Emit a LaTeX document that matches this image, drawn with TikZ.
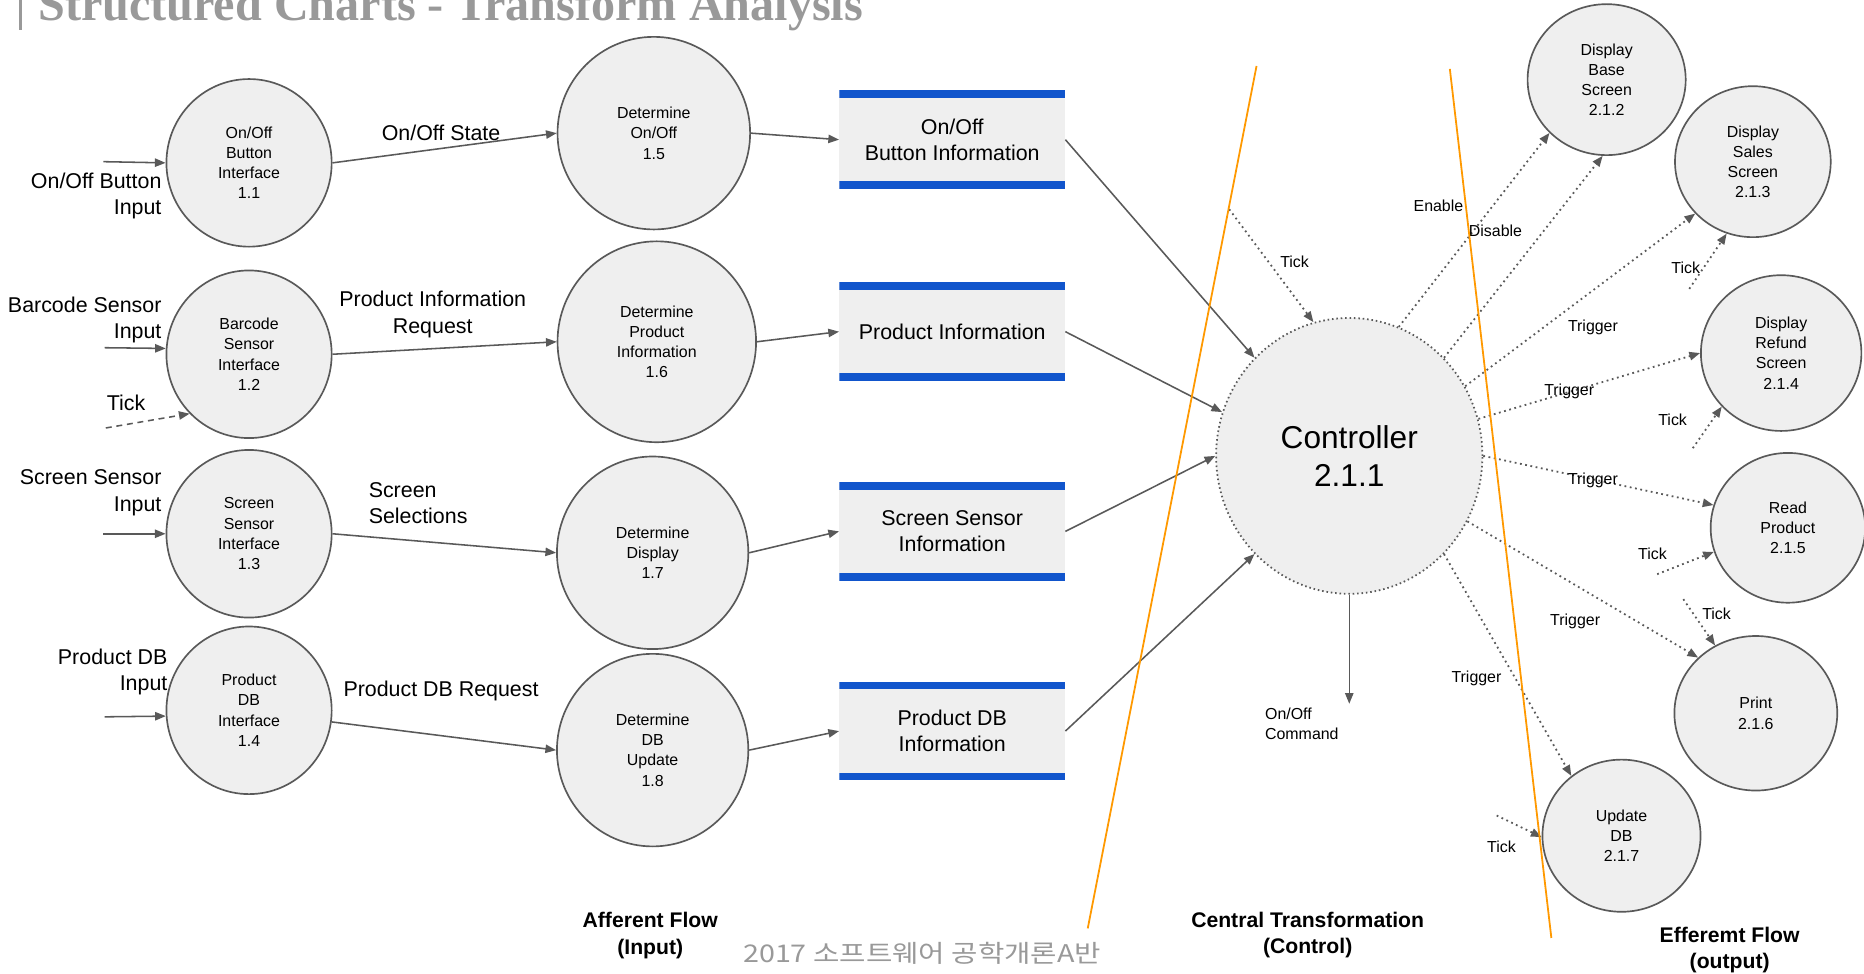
\documentclass[tikz,border=0pt]{standalone}
\usepackage{fontspec}
\setmainfont{Liberation Sans}
\newfontfamily\titlefont{Liberation Serif}
\newfontfamily\cjk{Noto Sans CJK KR}
\usetikzlibrary{arrows.meta,shapes.geometric}
\definecolor{lineg}{HTML}{595959}
\definecolor{fillg}{HTML}{EFEFEF}
\definecolor{storeblue}{HTML}{1155CC}
\definecolor{orangeln}{HTML}{FF9900}
\definecolor{titleg}{HTML}{999999}
\begin{document}
\begin{tikzpicture}[x=1pt,y=-1pt,
  proc/.style={ellipse, draw=lineg, line width=1.4pt, fill=fillg, inner sep=0pt, align=center,
    font=\fontsize{13.4}{17}\selectfont},
  ctrlnode/.style={ellipse, draw=lineg, line width=1.5pt, dash pattern=on 1.3pt off 2.4pt, fill=fillg,
    inner sep=0pt, align=center, minimum width=224pt, minimum height=232pt, font=\fontsize{26.6}{32}\selectfont},
  store/.style={rectangle, fill=fillg, minimum width=190pt, minimum height=83pt, inner sep=0pt, align=center,
    font=\fontsize{18}{22}\selectfont,
    path picture={\fill[storeblue] (path picture bounding box.north west) rectangle ([yshift=-6.5pt]path picture bounding box.north east);
                  \fill[storeblue] (path picture bounding box.south west) rectangle ([yshift=6.5pt]path picture bounding box.south east);}},
  lab/.style={inner sep=0pt, align=center, font=\fontsize{18}{22}\selectfont},
  small/.style={inner sep=0pt, align=center, font=\fontsize{13.4}{17}\selectfont},
  flowlab/.style={inner sep=0pt, align=center, font=\bfseries\fontsize{17.8}{22}\selectfont},
  arr/.style={draw=lineg, line width=1.3pt, -{Triangle[length=9pt,width=7pt]}},
  dotarr/.style={draw=lineg, line width=1.5pt, dash pattern=on 1.5pt off 3pt, -{Triangle[length=9pt,width=7pt]}},
  dasharr/.style={draw=lineg, line width=1.3pt, dash pattern=on 5pt off 4pt, -{Triangle[length=9pt,width=7pt]}},
  orangeline/.style={draw=orangeln, line width=1.5pt}
]
\useasboundingbox[fill=white] (0,0) rectangle (1568,818.5);

% title
\node[anchor=base west, inner sep=0pt, text=titleg, font=\titlefont\bfseries\fontsize{40.5}{48}\selectfont] (title) at (32,17.5) {Structured Charts - Transform Analysis};
\draw[titleg, line width=2.3pt] (17,0) -- (17,25);

% left processes
\node[proc, minimum width=139pt, minimum height=141pt] (n11) at (209.5,137) {On/Off\\Button\\Interface\\1.1};
\node[proc, minimum width=139pt, minimum height=141pt] (n12) at (209.5,298) {Barcode\\Sensor\\Interface\\1.2};
\node[proc, minimum width=139pt, minimum height=141pt] (n13) at (209.5,449) {Screen\\Sensor\\Interface\\1.3};
\node[proc, minimum width=139pt, minimum height=141pt] (n14) at (209.5,597.5) {Product\\DB\\Interface\\1.4};

\node[proc, minimum width=162pt, minimum height=162pt] (n15) at (550,112) {Determine\\On/Off\\1.5};
\node[proc, minimum width=167pt, minimum height=169pt] (n16) at (552.5,287.5) {Determine\\Product\\Information\\1.6};
\node[proc, minimum width=161pt, minimum height=162pt] (n17) at (549,465) {Determine\\Display\\1.7};
\node[proc, minimum width=161pt, minimum height=162pt] (n18) at (549,631) {Determine\\DB\\Update\\1.8};

% stores
\node[store] (s1) at (801,117.5) {On/Off\\Button Information};
\node[store] (s2) at (801,279) {Product Information};
\node[store] (s3) at (801,447) {Screen Sensor\\Information};
\node[store] (s4) at (801,615) {Product DB\\Information};

% controller and outputs
\node[ctrlnode] (ctrl) at (1135,383.5) {Controller\\2.1.1};
\node[proc, minimum width=133pt, minimum height=127pt] (n212) at (1351.5,67) {Display\\Base\\Screen\\2.1.2};
\node[proc, minimum width=131pt, minimum height=127pt] (n213) at (1474.5,136) {Display\\Sales\\Screen\\2.1.3};
\node[proc, minimum width=135pt, minimum height=131pt] (n214) at (1498.3,297) {Display\\Refund\\Screen\\2.1.4};
\node[proc, minimum width=130pt, minimum height=126pt] (n215) at (1504,444) {Read\\Product\\2.1.5};
\node[proc, minimum width=137pt, minimum height=130pt] (n216) at (1477,600) {Print\\2.1.6};
\node[proc, minimum width=133pt, minimum height=128pt] (n217) at (1364,703) {Update\\DB\\2.1.7};

% inputs
\coordinate (i1) at (87,136);
\coordinate (i2) at (88,292.5);
\coordinate (i3) at (87,449);
\coordinate (i4) at (88,603);
\coordinate (itk) at (89,360);
\draw[arr] (i1) -- (n11.west);
\draw[arr] (i2) -- (n12.176);
\draw[dasharr] (itk) -- (n12.225);
\draw[arr] (i3) -- (n13.west);
\draw[arr] (i4) -- (n14.184.5);
\node[lab, anchor=east, align=right] (li1) at (136,165) {On/Off Button\\Input};
\node[lab, anchor=east, align=right] (li2) at (136,269) {Barcode Sensor\\Input};
\node[lab] (ltk) at (106,339) {Tick};
\node[lab, anchor=east, align=right] (li3) at (136,414.5) {Screen Sensor\\Input};
\node[lab, anchor=east, align=right] (li4) at (141,565.5) {Product DB\\Input};

% afferent arrows
\draw[arr] (n11.east) -- (n15.west);
\draw[arr] (n12.east) -- (n16.west);
\draw[arr] (n13.east) -- (n17.west);
\draw[arr] (n14.-8) -- (n18.west);
\node[lab] (l1) at (371,112) {On/Off State};
\node[lab] (l2) at (364,264.5) {Product Information\\Request};
\node[lab, anchor=west, align=left] (l3) at (310,423) {Screen\\Selections};
\node[lab] (l4) at (371,581) {Product DB Request};

\draw[arr] (n15.east) -- (s1.west);
\draw[arr] (n16.east) -- (s2.west);
\draw[arr] (n17.east) -- (s3.west);
\draw[arr] (n18.east) -- (s4.west);

% into controller
\draw[arr] (s1.east) -- (ctrl.134.5);
\draw[arr] (s2.east) -- (ctrl.161);
\draw[arr] (s3.east) -- (ctrl.180);
\draw[arr] (s4.east) -- (ctrl.226);
\coordinate (tk0) at (1034,176);
\draw[dotarr] (tk0) -- (ctrl.105.7);
\node[small] (ltk0) at (1089,220) {Tick};

% on/off command
\coordinate (cmd) at (1135,592);
\draw[arr] (ctrl.south) -- (cmd);
\node[small, anchor=west, align=left] (lcmd) at (1064,609) {On/Off\\Command};

% efferent
\draw[dotarr] (ctrl.69) -- (n212.223.5);
\node[small] (len) at (1210,173) {Enable};
\draw[dotarr] (ctrl.46.9) -- (n212.267.8);
\node[small] (ldis) at (1258,194) {Disable};
\draw[dotarr] (ctrl.31.8) -- (n213.222.9);
\node[small] (ltr3) at (1340,275) {Trigger};
\draw[dotarr] (ctrl.16.2) -- (n214.180);
\node[small] (ltr4) at (1320,329) {Trigger};
\draw[dotarr] (ctrl.0) -- (n215.163.6);
\node[small] (ltr5) at (1340,404) {Trigger};
\draw[dotarr] (ctrl.-29.7) -- (n216.136.8);
\node[small] (ltr6) at (1325,523) {Trigger};
\draw[dotarr] (ctrl.-46.9) -- (n217.130.5);
\node[small] (ltr7) at (1242,571) {Trigger};

\coordinate (t3) at (1421,243);
\coordinate (t4) at (1424,377);
\coordinate (t5) at (1394,483);
\coordinate (t6) at (1416,504);
\coordinate (t7) at (1259,686);
\draw[dotarr] (t3) -- (n213.250);
\node[small] (lt3) at (1418,225) {Tick};
\draw[dotarr] (t4) -- (n214.222.6);
\node[small] (lt4) at (1407,353) {Tick};
\draw[dotarr] (t5) -- (n215.198.7);
\node[small] (lt5) at (1390,466) {Tick};
\draw[dotarr] (t6) -- (n216.121.9);
\node[small] (lt6) at (1444,516) {Tick};
\draw[dotarr] (t7) -- (n217.181.7);
\node[small] (lt7) at (1263,712) {Tick};

% orange separators
\draw[orangeline] (1057,55.5) -- (915,781);
\draw[orangeline] (1219.6,58) -- (1305,789);

% bottom labels
\node[flowlab] (fa) at (547,787) {Afferent Flow\\(Input)};
\node[flowlab] (fc) at (1100,786.5) {Central Transformation\\(Control)};
\node[flowlab] (fe) at (1455,799.5) {Efferemt Flow\\(output)};
\node[anchor=base west, inner sep=0pt, text=titleg, font=\cjk\fontsize{20.5}{24}\selectfont] (foot) at (625,809.5) {\resizebox{301pt}{\height}{2017 소프트웨어 공학개론A반}};
\end{tikzpicture}
\end{document}
